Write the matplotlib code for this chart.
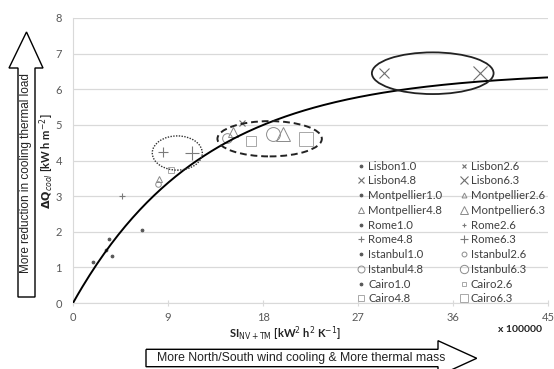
import numpy as np
import matplotlib
matplotlib.use("Agg")
import matplotlib.pyplot as plt
from matplotlib.patches import Ellipse, Polygon
from matplotlib.lines import Line2D

W, H = 554, 369

# SI_NV+TM (x 100000) and dQ_cool per city / thermal mass case
cases = ["1.0", "2.6", "4.8", "6.3"]
cities = ["Lisbon", "Montpellier", "Rome", "Istanbul", "Cairo"]
lisbon_x = [6.57, 16.05, 29.48, 38.58]
lisbon_y = [2.04, 5.06, 6.45, 6.45]
montpellier_x = [3.44, 8.18, 15.14, 19.87]
montpellier_y = [1.81, 3.48, 4.81, 4.73]
rome_x = [1.93, 4.61, 8.56, 11.25]
rome_y = [1.15, 2.99, 4.24, 4.20]
istanbul_x = [3.13, 8.03, 14.57, 18.99]
istanbul_y = [1.49, 3.35, 4.64, 4.73]
cairo_x = [3.73, 9.26, 16.87, 22.05]
cairo_y = [1.32, 3.73, 4.54, 4.59]

# trendline y = A * (1 - exp(-x / K))
TREND_A = 6.5
TREND_K = 12.3

xs_all = [lisbon_x, montpellier_x, rome_x, istanbul_x, cairo_x]
ys_all = [lisbon_y, montpellier_y, rome_y, istanbul_y, cairo_y]
markers = ["x", "^", "+", "o", "s"]
colors = ["#6e6e6e", "#8a8a8a", "#7a7a7a", "#8c8c8c", "#a8a8a8"]
sizes = [2.0, 4.0, 7.0, 10.0]
leg_sizes = [2.0, 3.5, 5.0, 6.0]

plt.rcParams["font.family"] = ["Lato", "DejaVu Sans"]

fig = plt.figure(figsize=(W / 100, H / 100), dpi=100)
ax = fig.add_axes([73 / W, 1 - 303 / H, 475 / W, 285 / H])


def style(ci, k, size_list):
    mk, col, ms = markers[ci], colors[ci], size_list[k]
    if k == 0:
        mk, col, ms = "o", "#555555", 2.0
    lw = 0.8 if mk in ("x", "+") else 0.7
    return dict(marker=mk, ms=ms, mec=col, mfc="none" if k > 0 else col, mew=lw)


handles = {}
for ci, city in enumerate(cities):
    for k, case in enumerate(cases):
        ax.plot(xs_all[ci][k], ys_all[ci][k], linestyle="none", zorder=4, **style(ci, k, sizes))
        handles[(ci, k)] = Line2D([], [], linestyle="none", **style(ci, k, leg_sizes))

# trendline
xt = np.linspace(0, 45, 200)
ax.plot(xt, TREND_A * (1 - np.exp(-xt / TREND_K)), color="black", lw=1.4, zorder=5)

# ellipses
ax.add_patch(Ellipse((9.88, 4.21), 4.74, 0.96, fill=False, ls=(0, (1, 1)), lw=1.0, ec="#333333", zorder=6))
ax.add_patch(Ellipse((18.63, 4.61), 9.89, 0.99, fill=False, ls=(0, (3.5, 2)), lw=1.4, ec="#222222", zorder=6))
ax.add_patch(Ellipse((34.08, 6.45), 11.53, 1.17, fill=False, lw=1.3, ec="#222222", zorder=6))

ax.set_xlim(0, 45)
ax.set_ylim(0, 8)
ax.set_xticks([0, 9, 18, 27, 36, 45])
ax.set_yticks(range(0, 9))
ax.grid(axis="y", color="#d9d9d9", lw=0.9)
ax.set_axisbelow(True)
for s in ["top", "right"]:
    ax.spines[s].set_visible(False)
ax.spines["left"].set_color("#d9d9d9")
ax.spines["bottom"].set_color("#d9d9d9")
ax.tick_params(axis="x", direction="inout", length=5, color="#d9d9d9", labelsize=8, labelcolor="#595959", pad=4)
ax.tick_params(axis="y", length=0, labelsize=8, labelcolor="#595959", pad=8)

# legend: row-wise order (1.0, 2.6 / 4.8, 6.3)
col1, col2, lab1, lab2 = [], [], [], []
for ci, city in enumerate(cities):
    for k in (0, 2):
        col1.append(handles[(ci, k)])
        lab1.append(city + cases[k])
    for k in (1, 3):
        col2.append(handles[(ci, k)])
        lab2.append(city + cases[k])
leg = ax.legend(col1 + col2, lab1 + lab2, ncol=2, loc="upper left", bbox_to_anchor=(0.6, 0.5),
                frameon=False, fontsize=8.2, handlelength=0.6, handletextpad=0.3, columnspacing=1.6,
                labelspacing=0.33, borderpad=0, borderaxespad=0, labelcolor="#404040")

fig.text(47 / W, 1 - 161 / H, r"$\mathbf{\Delta Q}_{\mathit{cool}}$ [kW h m$^{-2}$]", rotation=90,
         ha="center", va="center", fontsize=8, fontweight="bold", color="#222222")
fig.text(285 / W, 1 - 334 / H, r"SI$_{\mathrm{NV+TM}}$ [kW$^{2}$ h$^{2}$ K$^{-1}$]", ha="center", va="center",
         fontsize=8, fontweight="bold", color="#222222")
fig.text(520 / W, 1 - 329 / H, "x 100000", ha="center", va="center", fontsize=7.5, fontweight="bold",
         color="#222222")

# hollow block arrows
up = [(18, 297), (35, 297), (35, 68), (43, 68), (26.5, 32), (9, 68), (18, 68)]
right = [(146, 349.3), (438, 349.3), (438, 340.7), (476.7, 358.3), (438, 376), (438, 366.7), (146, 366.7)]
for pts in (up, right):
    fig.patches.append(Polygon([(x / W, 1 - y / H) for x, y in pts], closed=True, fill=False, ec="black",
                               lw=1.0, transform=fig.transFigure, figure=fig))
fig.text(26.5 / W, 1 - 173 / H, "More reduction in cooling thermal load", rotation=90, ha="center",
         va="center", fontsize=8.5, family="Liberation Sans", color="#222222")
fig.text(301 / W, 1 - 358 / H, "More North/South wind cooling & More thermal mass", ha="center", va="center",
         fontsize=8.8, family="Liberation Sans", color="#222222")

fig.savefig("out.png", dpi=100)
